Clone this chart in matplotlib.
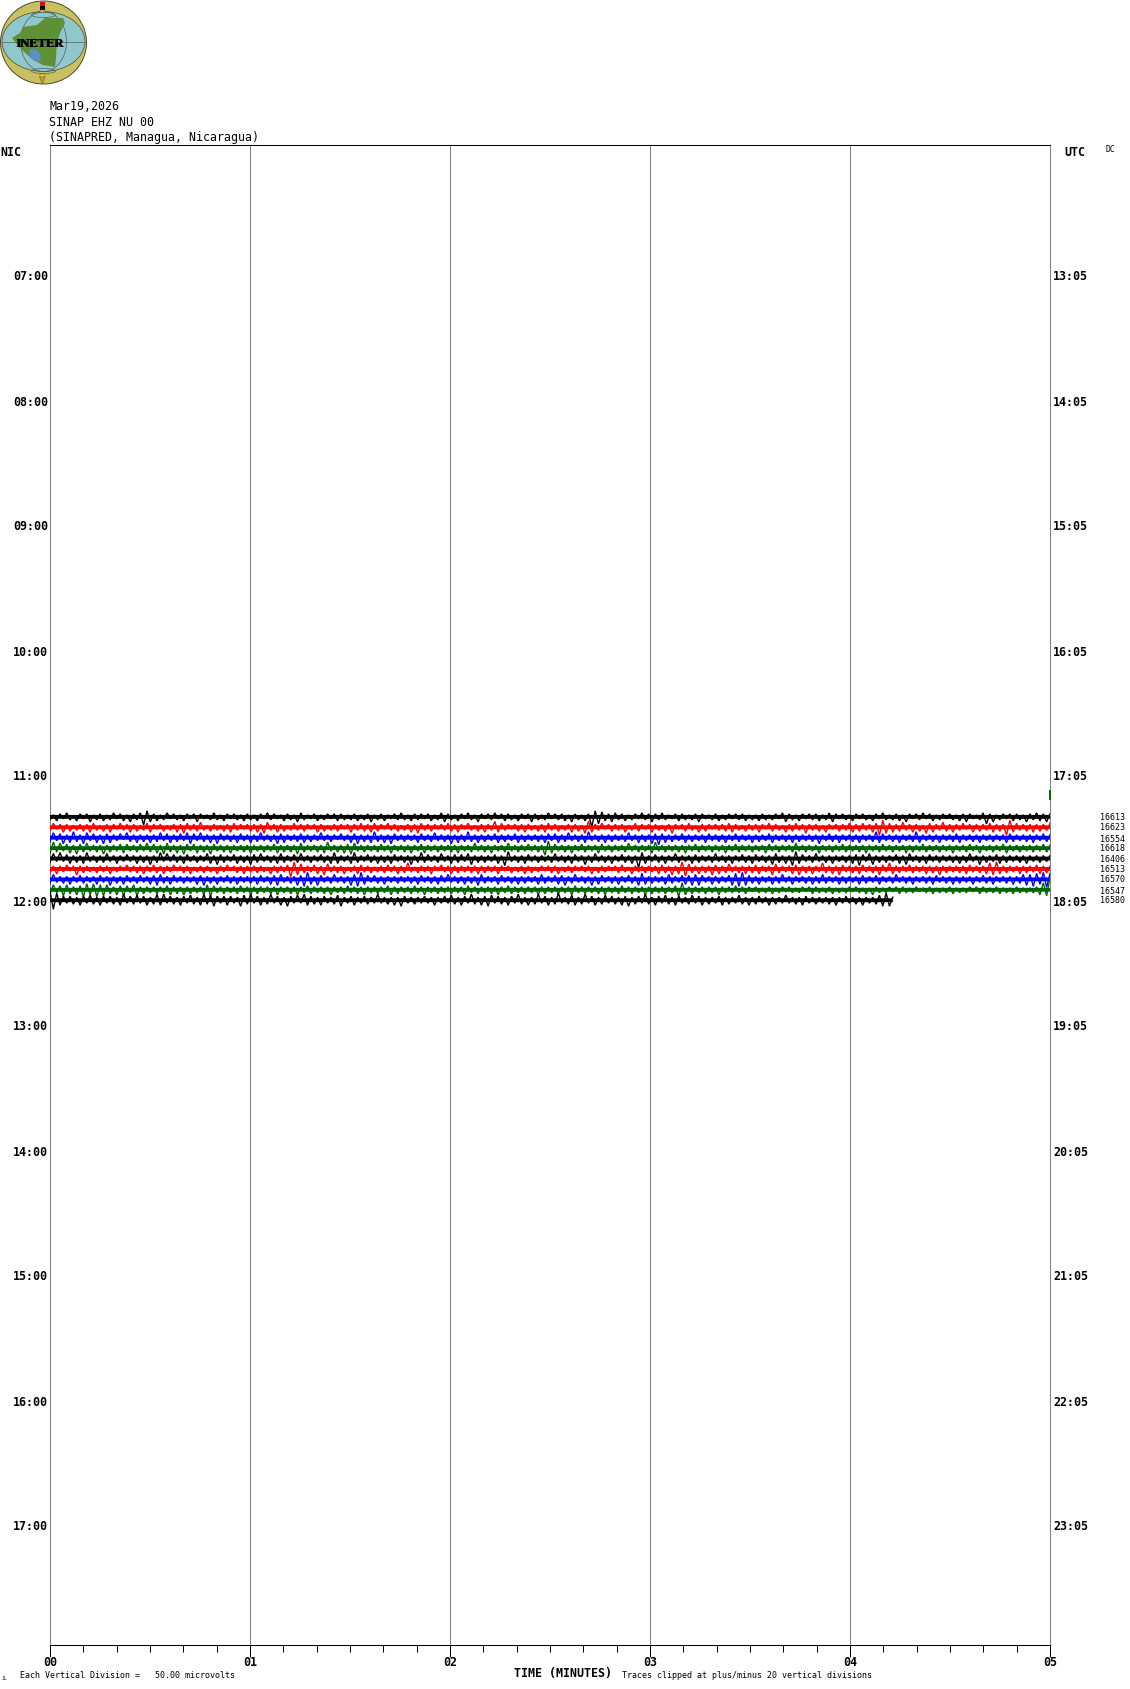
import matplotlib
matplotlib.use("Agg")
import matplotlib.pyplot as plt
from matplotlib.patches import Ellipse, Polygon, Rectangle

plt.rcParams["path.simplify"] = False

W, H = 1130, 1689
LEFT, RIGHT, TOP, BOTTOM = 50, 1050, 145, 1645
PX_PER_HOUR = 125.0
MONO = "DejaVu Sans Mono"

nic_hours = [7, 8, 9, 10, 11, 12, 13, 14, 15, 16, 17]
nic_labels = ["07:00", "08:00", "09:00", "10:00", "11:00", "12:00", "13:00", "14:00", "15:00", "16:00", "17:00"]
utc_labels = ["13:05", "14:05", "15:05", "16:05", "17:05", "18:05", "19:05", "20:05", "21:05", "22:05", "23:05"]
minute_labels = ["00", "01", "02", "03", "04", "05"]
header_lines = ["Mar19,2026", "SINAP EHZ NU 00", "(SINAPRED, Managua, Nicaragua)"]
trace_counts = ["16613", "16623", "16554", "16618", "16406", "16513", "16570", "16547", "16580"]
trace_colors = ["#000000", "#ff0000", "#0000ff", "#006400", "#000000", "#ff0000", "#0000ff", "#006400", "#000000"]
trace_starts_min = [680, 685, 690, 695, 700, 705, 710, 715, 720]

trace_1 = [3,-2,4,-3,2,-4,3,-1,4,-3,2,-3,5,-2,3,-3,4,-2,3,-4,2,-3,4,-2,5,-3,3,-4,8,-6,
           5,-3,4,-2,3,-4,2,-3,3,-2,4,-3,2,-3,5,-3,2,-2,3,-4,3,-2,4,-3,2,-3,3,-2,4,-3,
           3,-2,4,-3,2,-4,3,-3,2,-2,4,-3,3,-2,5,-4,3,-2,2,-3,4,-2,3,-3,2,-3,4,-3,3,-2,
           3,-3,4,-2,3,-3,5,-2,3,-3,4,-2,2,-3,3,-4,3,-2,4,-3,3,-3,2,-3,4,-2,3,-4,5,-3,
           3,-2,4,-3,2,-4,3,-2,5,-3,2,-3,3,-4,2,-3,4,-3,3,-2,4,-3,2,-3,5,-3,3,-2,3,-4,
           2,-3,3,-3,4,-2,5,-3,3,-2,4,-3,10,-6,7,-5,4,-3,5,-4,3,-3,4,-2,3,-3,2,-4,3,-3,
           5,-3,3,-4,3,-2,2,-3,4,-3,3,-2,3,-3,5,-3,2,-2,3,-3,4,-2,3,-3,2,-3,3,-3,4,-2,
           3,-2,4,-3,3,-2,3,-3,2,-4,5,-3,3,-2,4,-3,2,-3,3,-3,4,-2,3,-4,5,-3,2,-3,3,-2,
           4,-3,2,-3,3,-2,4,-3,2,-4,3,-2,3,-3,4,-2,5,-3,2,-3,3,-4,2,-3,4,-2,3,-3,2,-3,
           3,-2,4,-3,5,-3,2,-2,3,-4,7,-3,5,-2,3,-3,2,-3,4,-3,3,-2,5,-3,3,-4,4,-3,5,-3]
trace_2 = [3,-4,2,-3,5,-3,4,-2,3,-3,4,-3,5,-4,3,-2,4,-3,5,-3,2,-4,3,-3,5,-3,4,-2,3,-4,
           5,-3,2,-3,4,-2,3,-3,5,-3,6,-4,3,-3,4,-5,3,-2,4,-3,3,-2,4,-3,5,-4,3,-3,2,-3,
           4,-3,5,-3,6,-5,3,-3,5,-3,4,-2,3,-4,3,-3,4,-3,2,-3,5,-3,4,-2,3,-3,4,-3,2,-3,
           5,-3,3,-4,4,-3,5,-4,4,-3,2,-4,3,-3,4,-2,3,-3,5,-3,6,-4,3,-3,4,-3,2,-3,3,-4,
           4,-3,5,-3,2,-4,3,-2,4,-3,5,-3,3,-6,5,-4,3,-3,2,-3,4,-3,5,-3,3,-2,4,-3,5,-4,
           3,-3,4,-2,3,-3,5,-3,4,-2,6,-6,5,-3,3,-4,2,-3,4,-3,3,-3,5,-2,3,-4,4,-3,2,-3,
           5,-3,3,-2,4,-3,6,-3,2,-3,4,-4,3,-2,5,-3,4,-3,2,-3,3,-3,4,-4,5,-3,3,-2,4,-3,
           3,-3,5,-3,2,-4,4,-3,3,-2,5,-3,4,-4,3,-3,6,-3,3,-3,4,-2,5,-3,2,-3,4,-3,3,-4,
           5,-3,4,-4,3,-3,5,-4,8,-7,6,-4,5,-3,4,-5,3,-3,5,-3,4,-2,6,-4,5,-3,3,-5,4,-3,
           5,-3,3,-4,2,-3,5,-3,4,-3,3,-4,5,-3,4,-3,8,-7,5,-4,3,-3,4,-3,5,-3,4,-3,3,-4]
trace_3 = [4,-5,3,-4,6,-3,5,-6,4,-3,6,-5,3,-4,5,-3,6,-4,5,-3,3,-4,2,-5,4,-3,5,-3,4,-3,
           5,-3,4,-5,3,-4,5,-3,4,-4,3,-5,6,-4,3,-5,4,-3,5,-3,6,-4,3,-3,4,-3,5,-4,3,-3,
           5,-3,4,-5,3,-3,4,-3,6,-4,5,-3,3,-3,4,-4,5,-3,4,-3,3,-5,3,-3,4,-3,2,-4,3,-3,
           5,-4,6,-3,4,-3,5,-6,4,-3,5,-3,6,-4,3,-3,4,-3,3,-3,5,-4,3,-3,4,-5,3,-3,4,-3,
           6,-3,5,-3,4,-6,4,-3,5,-3,4,-3,3,-4,5,-3,4,-3,3,-4,5,-3,4,-3,3,-3,4,-3,5,-4,
           3,-4,5,-3,4,-5,3,-3,4,-3,5,-6,3,-3,4,-3,5,-3,4,-3,3,-3,4,-5,3,-3,5,-3,4,-3,
           6,-4,7,-4,5,-3,4,-3,3,-4,5,-3,4,-3,3,-3,5,-4,3,-3,4,-3,5,-3,3,-4,4,-3,3,-3,
           5,-3,4,-3,3,-4,5,-3,3,-3,4,-3,5,-3,4,-3,3,-3,4,-3,6,-3,3,-4,4,-3,5,-3,3,-3,
           4,-3,5,-3,3,-3,4,-6,5,-4,3,-3,4,-3,5,-3,3,-3,4,-6,5,-3,3,-3,4,-3,5,-3,3,-3,
           4,-4,5,-3,3,-3,4,-3,5,-3,3,-3,4,-3,3,-3,5,-4,4,-3,3,-3,4,-3,5,-3,3,-4,4,-3]
trace_4 = [5,-6,4,-5,3,-4,5,-3,6,-4,4,-5,3,-3,4,-3,6,-3,4,-3,3,-4,5,-4,3,-3,4,-4,3,-5,
           4,-4,5,-3,6,-5,4,-3,5,-3,6,-4,3,-4,5,-3,4,-3,6,-4,3,-3,4,-3,5,-3,3,-3,4,-3,
           5,-3,3,-3,4,-3,3,-4,5,-3,4,-3,4,-3,6,-5,4,-3,3,-3,4,-3,5,-6,3,-3,4,-3,5,-4,
           6,-5,3,-3,4,-3,3,-3,4,-4,3,-3,5,-3,3,-3,4,-3,5,-3,3,-4,5,-3,3,-3,4,-3,3,-3,
           4,-3,5,-3,3,-3,4,-5,3,-3,4,-3,5,-3,3,-3,4,-5,3,-3,4,-3,3,-4,3,-3,4,-3,7,-7,
           5,-4,3,-3,4,-3,5,-3,3,-4,4,-3,3,-3,5,-4,3,-3,4,-3,3,-3,4,-5,3,-3,4,-3,3,-3,
           5,-6,3,-3,4,-3,3,-3,4,-3,5,-3,3,-4,4,-3,3,-3,4,-3,3,-3,5,-3,3,-4,4,-3,3,-3,
           4,-3,3,-3,5,-4,3,-3,4,-3,3,-3,4,-5,3,-3,4,-3,3,-3,5,-3,3,-3,4,-3,3,-4,4,-3,
           3,-3,4,-3,5,-3,3,-3,4,-4,3,-3,4,-3,3,-3,5,-3,4,-3,3,-4,4,-3,3,-3,4,-3,3,-3,
           5,-3,3,-3,4,-4,3,-3,5,-3,3,-3,4,-3,3,-4,5,-3,3,-3,4,-3,3,-3,4,-3,3,-4,4,-3]
trace_5 = [4,-5,3,-6,3,-4,5,-3,4,-3,5,-6,3,-3,4,-3,4,-5,3,-3,5,-3,3,-4,3,-3,5,-3,4,-3,
           6,-3,4,-6,3,-5,3,-4,4,-3,5,-4,3,-3,4,-3,3,-5,5,-3,6,-4,4,-3,3,-4,5,-3,4,-3,
           6,-4,4,-5,3,-3,4,-3,5,-5,4,-3,3,-4,4,-5,3,-3,4,-3,3,-4,4,-3,5,-6,5,-3,3,-3,
           5,-6,4,-3,3,-4,4,-3,5,-3,4,-3,5,-4,3,-3,4,-3,6,-3,4,-6,4,-4,3,-3,4,-5,3,-3,
           5,-4,4,-4,3,-5,6,-3,4,-3,4,-3,3,-4,5,-3,7,-7,3,-3,4,-3,5,-4,3,-3,4,-3,3,-3,
           4,-5,3,-3,4,-3,5,-4,3,-3,6,-3,4,-5,3,-3,4,-3,5,-3,3,-4,4,-3,5,-3,9,-6,5,-3,
           3,-4,4,-3,5,-3,3,-5,4,-3,3,-3,5,-4,4,-3,3,-3,4,-5,3,-3,4,-3,5,-3,3,-4,4,-3,
           5,-4,3,-3,4,-3,6,-5,4,-3,5,-3,7,-7,5,-4,3,-3,4,-5,3,-3,4,-3,5,-3,3,-3,4,-3,
           5,-4,7,-4,3,-5,6,-3,4,-3,4,-3,3,-4,5,-3,6,-5,3,-3,4,-3,5,-4,3,-3,4,-3,3,-3,
           4,-3,5,-3,4,-5,3,-3,6,-3,4,-3,3,-4,5,-3,4,-3,3,-3,4,-3,5,-3,3,-3,4,-3,3,-3]
trace_6 = [4,-3,5,-3,3,-4,2,-3,6,-3,4,-3,3,-2,4,-3,3,-3,5,-2,3,-3,2,-4,3,-3,4,-3,5,-3,
           3,-4,4,-3,5,-3,3,-4,2,-3,4,-3,5,-2,3,-3,4,-3,3,-2,5,-3,3,-4,2,-3,4,-3,5,-3,
           3,-3,4,-3,3,-2,5,-3,4,-3,3,-4,8,-7,6,-5,4,-3,3,-4,5,-3,6,-5,3,-3,4,-3,5,-2,
           3,-3,5,-4,3,-3,4,-2,3,-3,4,-4,3,-3,5,-3,4,-6,3,-2,4,-3,3,-3,5,-3,2,-4,3,-3,
           5,-3,4,-3,3,-3,4,-3,5,-3,4,-3,3,-3,5,-3,2,-3,4,-2,3,-3,5,-3,4,-2,3,-3,2,-3,
           4,-3,5,-2,3,-3,4,-3,2,-3,3,-3,5,-2,4,-3,3,-3,2,-3,4,-4,3,-2,5,-3,3,-3,4,-3,
           3,-3,5,-4,4,-3,6,-3,5,-7,7,-5,4,-3,5,-3,4,-3,6,-4,5,-3,4,-5,3,-3,4,-3,5,-3,
           4,-4,5,-3,3,-3,6,-5,4,-3,3,-3,5,-4,6,-3,4,-3,5,-3,3,-6,4,-3,5,-3,6,-4,3,-3,
           4,-3,5,-4,3,-3,4,-3,6,-4,3,-6,5,-3,4,-3,3,-4,4,-3,3,-3,5,-3,4,-3,6,-3,4,-3,
           3,-3,4,-3,5,-4,3,-3,4,-3,5,-6,6,-7,5,-3,4,-3,3,-3,5,-3,4,-3,3,-4,5,-3,4,-3]
trace_7 = [4,-5,3,-3,4,-3,5,-3,3,-4,4,-3,3,-3,5,-4,3,-3,6,-3,4,-3,5,-4,3,-3,4,-4,3,-3,
           5,-4,6,-5,4,-3,5,-4,3,-3,4,-3,3,-3,5,-4,6,-3,4,-3,5,-3,3,-4,4,-3,5,-3,3,-3,
           4,-3,5,-4,3,-3,5,-4,6,-5,3,-3,4,-3,6,-4,7,-7,5,-3,6,-4,3,-3,4,-5,3,-3,4,-3,
           6,-5,7,-7,5,-4,3,-4,4,-3,5,-3,3,-3,4,-3,3,-3,4,-3,5,-4,3,-3,4,-3,5,-4,3,-5,
           3,-3,4,-3,5,-3,4,-3,6,-5,4,-3,3,-3,5,-4,3,-3,4,-3,5,-3,4,-3,3,-3,5,-5,4,-3,
           3,-4,5,-4,6,-3,4,-5,3,-3,4,-3,6,-3,5,-4,3,-3,4,-3,5,-3,3,-4,4,-3,6,-6,5,-3,
           4,-3,3,-3,5,-5,4,-3,3,-4,5,-4,6,-5,6,-4,3,-3,5,-3,4,-3,3,-4,6,-6,7,-7,6,-4,
           4,-3,5,-3,3,-3,5,-3,4,-5,3,-3,5,-3,3,-3,4,-3,5,-3,4,-5,4,-3,3,-3,5,-3,4,-3,
           3,-3,5,-4,4,-3,3,-4,5,-3,3,-3,4,-5,3,-3,4,-3,5,-3,3,-3,4,-3,5,-4,3,-3,4,-3,
           5,-3,4,-3,3,-3,5,-3,3,-4,4,-3,5,-3,3,-3,4,-3,5,-3,4,-5,6,-5,7,-6,5,-7,8,-6]
trace_8 = [4,-5,3,-4,6,-5,4,-3,5,-4,7,-6,5,-6,7,-5,6,-5,4,-3,5,-4,6,-4,3,-5,6,-3,4,-3,
           3,-3,4,-3,3,-4,5,-3,4,-3,5,-3,4,-3,3,-3,5,-5,6,-4,3,-3,4,-3,3,-3,4,-4,3,-3,
           5,-3,4,-3,3,-3,4,-3,5,-3,3,-3,4,-3,5,-3,3,-4,4,-3,3,-3,4,-3,5,-3,3,-3,4,-4,
           3,-3,4,-3,5,-3,3,-3,4,-3,3,-4,5,-3,4,-3,3,-3,4,-4,3,-3,5,-3,3,-3,4,-3,3,-3,
           4,-3,3,-3,5,-4,3,-3,4,-3,3,-3,4,-3,5,-3,3,-4,4,-3,3,-3,4,-3,3,-3,5,-3,4,-3,
           3,-3,4,-3,3,-3,5,-4,3,-3,4,-3,3,-3,4,-3,5,-3,3,-3,4,-4,3,-3,4,-3,3,-3,5,-3,
           4,-3,3,-3,4,-3,3,-4,7,-7,5,-3,4,-3,3,-3,4,-3,3,-3,5,-3,3,-3,3,-4,3,-3,4,-3,
           2,-3,3,-2,3,-3,4,-2,3,-3,2,-3,3,-2,3,-3,2,-3,4,-3,3,-2,3,-3,4,-2,3,-2,3,-3,
           2,-3,3,-2,4,-2,5,-3,3,-2,3,-3,2,-3,4,-3,3,-2,3,-3,2,-2,3,-3,4,-2,3,-2,3,-3,
           4,-2,3,-2,3,-3,2,-3,4,-3,3,-2,3,-3,4,-2,3,-2,4,-3,3,-2,3,-2,3,-3,5,-7,6,-12]
trace_9 = [-9,9,-7,5,-4,3,-4,4,-3,5,-4,3,-5,4,-3,5,-4,3,-4,4,-3,5,-6,3,-4,4,-5,3,-4,5,
           -3,4,-6,5,-6,3,-4,4,-3,5,-4,3,-5,4,-3,5,-6,4,-5,6,-4,3,-4,5,-4,3,-3,6,-5,4,
           -6,3,-4,5,-3,4,-6,3,-4,5,-3,6,-4,3,-5,3,-6,5,-4,4,-3,5,-4,3,-3,4,-5,6,-3,3,
           -4,5,-3,3,-4,4,-3,3,-6,3,-3,4,-3,5,-3,6,-4,3,-3,4,-3,3,-4,3,-3,5,-3,3,-4,3,
           -5,4,-3,5,-4,3,-6,4,-3,5,-4,6,-5,3,-4,4,-3,5,-4,3,-6,4,-3,5,-3,4,-6,3,-4,5,
           -3,4,-7,3,-3,4,-5,5,-3,4,-6,3,-4,5,-3,4,-5,3,-4,4,-3,5,-4,6,-3,4,-4,3,-6,4,
           -3,5,-4,3,-5,4,-3,5,-4,3,-3,4,-5,3,-4,5,-3,4,-3,3,-4,5,-3,4,-3,3,-5,4,-3,5,
           -3,4,-4,3,-3,5,-3,4,-3,3,-5,3,-3,4,-3,5,-4,3,-3,4,-3,3,-3,4,-3,5,-3,3,-4,3,
           -3,4,-3,5,-3,3,-3,4,-5,6,-7,6,-3]
traces = [trace_1, trace_2, trace_3, trace_4, trace_5, trace_6, trace_7, trace_8, trace_9]
SAMPLES_PER_TRACE = 300
SAMPLE_MIN = 5.0 / (SAMPLES_PER_TRACE - 1)

blip_start_min = 670
blip_values = [-6, 4]


def fx(p):
    return p / W


def fy(p):
    return 1 - p / H


fig = plt.figure(figsize=(W / 100, H / 100), dpi=100, facecolor="white")
ax = fig.add_axes([fx(LEFT), fy(BOTTOM), (RIGHT - LEFT) / W, (BOTTOM - TOP) / H])
ax.set_xlim(0, 5)
ax.set_ylim(18, 6)
ax.set_facecolor("white")

for s in ("left", "right"):
    ax.spines[s].set_color("#808080")
for s in ("top", "bottom"):
    ax.spines[s].set_color("#000000")
for s in ax.spines.values():
    s.set_linewidth(0.75)

ax.set_yticks([])
ax.set_xticks(range(6))
ax.set_xticklabels([])
ax.set_xticks([m / 6 for m in range(31) if m % 6], minor=True)
ax.tick_params(axis="x", which="major", length=8.6, width=0.75, color="black", direction="out")
ax.tick_params(axis="x", which="minor", length=5, width=0.75, color="black", direction="out")

for m in range(1, 5):
    ax.axvline(m, color="#808080", lw=0.75, zorder=1)

for start, vals, col in zip(trace_starts_min, traces, trace_colors):
    centre = (start + 2.5) / 60
    xs = [i * SAMPLE_MIN for i in range(len(vals))]
    ys = [centre + v / PX_PER_HOUR for v in vals]
    ax.plot(xs, ys, color=col, lw=1.0, antialiased=True, zorder=3, solid_joinstyle="miter", snap=False)
    ax.plot([xs[0], xs[-1]], [centre, centre], color=col, lw=2.8, antialiased=True, zorder=3,
            solid_capstyle="butt", snap=False)

bc = (blip_start_min + 2.5) / 60
ax.plot([5, 5], [bc + v / PX_PER_HOUR for v in blip_values], color="#006400", lw=1.4, zorder=4,
        clip_on=False, solid_capstyle="butt")

for h, nl, ul in zip(nic_hours, nic_labels, utc_labels):
    ax.annotate(nl, xy=(0, h), xytext=(-2, -7), textcoords="offset pixels", ha="right", va="center",
                family=MONO, fontweight="bold", fontsize=8.4, annotation_clip=False)
    ax.annotate(ul, xy=(5, h), xytext=(3, -7), textcoords="offset pixels", ha="left", va="center",
                family=MONO, fontweight="bold", fontsize=8.4, annotation_clip=False)

for m, lab in enumerate(minute_labels):
    ax.annotate(lab, xy=(m, 18), xytext=(0, -18), textcoords="offset pixels", ha="center", va="center",
                family=MONO, fontweight="bold", fontsize=8.4, annotation_clip=False)

for y, line in zip([107, 122, 137], header_lines):
    fig.text(fx(49), fy(y), line, family=MONO, fontsize=8.4, va="center", ha="left", color="black")

fig.text(fx(0), fy(152), "NIC", family=MONO, fontweight="bold", fontsize=8.4, va="center", ha="left")
fig.text(fx(1064), fy(153), "UTC", family=MONO, fontweight="bold", fontsize=8.4, va="center", ha="left")
fig.text(fx(1105), fy(149), "DC", family=MONO, fontsize=5.8, va="center", ha="left")

for i, c in enumerate(trace_counts):
    yp = [818, 828, 839, 849, 860, 870, 880, 891, 901][i]
    fig.text(fx(1100), fy(yp), c, family=MONO, fontsize=6.0, va="center", ha="left")

fig.text(fx(2), fy(1679), "JL", family=MONO, fontsize=3.5, va="center", ha="left")
fig.text(fx(20), fy(1675), "Each Vertical Division =   50.00 microvolts", family=MONO, fontsize=6.0,
         va="center", ha="left")
fig.text(fx(514), fy(1673), "TIME (MINUTES)", family=MONO, fontweight="bold", fontsize=8.4, va="center", ha="left")
fig.text(fx(622), fy(1675), "Traces clipped at plus/minus 20 vertical divisions", family=MONO, fontsize=6.0,
         va="center", ha="left")

# INETER logo, drawn in a small pixel-scaled inset
lg = fig.add_axes([0, fy(88), 88 / W, 88 / H])
lg.set_xlim(0, 88)
lg.set_ylim(88, 0)
lg.axis("off")
lg.add_patch(Ellipse((43.5, 42.5), 86, 83, fc="#c9c060", ec="#4a4a30", lw=0.7))
lg.add_patch(Ellipse((43.5, 41.5), 83, 60, fc="#8fc8cc", ec="#4a4a30", lw=0.5))
lg.add_patch(Ellipse((43.5, 41.5), 46, 60, fc="none", ec="#50605a", lw=0.5))
lg.add_patch(Ellipse((43.5, 15), 24, 5, fc="none", ec="#50605a", lw=0.5))
lg.add_patch(Ellipse((43.5, 71), 24, 5, fc="none", ec="#50605a", lw=0.5))
lg.plot([2, 85], [41.5, 41.5], color="#50605a", lw=0.5)
lg.add_patch(Polygon([(12, 38), (20, 33), (23, 27), (37, 25), (45, 18), (63, 18), (65, 23), (60, 33),
                      (57, 43), (56, 58), (55, 67), (43, 65), (33, 60), (20, 48)],
                     closed=True, fc="#5f9035", ec="none"))
lg.add_patch(Ellipse((35, 55), 9, 15, angle=-35, fc="#5a90c8", ec="none"))
lg.add_patch(Rectangle((39.5, 2), 5.5, 4, fc="#d01010", ec="none"))
lg.add_patch(Rectangle((39.5, 6), 5.5, 4, fc="black", ec="none"))
lg.add_patch(Rectangle((39.5, 10), 5.5, 2, fc="#e8d040", ec="#555530", lw=0.3))
lg.add_patch(Rectangle((39.5, 74), 5.5, 3, fc="#e8d040", ec="#555530", lw=0.3))
lg.add_patch(Polygon([(39.5, 77), (45, 77), (42.3, 84)], closed=True, fc="#d09040", ec="#555530", lw=0.3))
for dx in (-0.3, 0.3):
    lg.text(40 + dx, 44, "INETER", family="Liberation Serif", fontweight="bold", fontsize=9.0, color="black",
            ha="center", va="center")

fig.savefig("out.png", dpi=100, facecolor="white")
